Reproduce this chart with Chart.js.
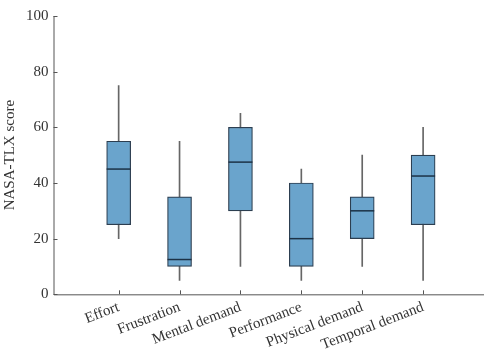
<!DOCTYPE html>
<html>
<head>
<meta charset="utf-8">
<script src="https://cdn.jsdelivr.net/npm/chart.js@4"></script>
<style>
  html, body { margin: 0; padding: 0; background: #fff; }
  #wrap { width: 484px; height: 358px; }
</style>
</head>
<body>
<div id="wrap"><canvas id="box-chart"></canvas></div>
<script>
const categories = ['Effort', 'Frustration', 'Mental demand', 'Performance', 'Physical demand', 'Temporal demand'];
const whiskerLow  = [20,  5,   10, 5,  10, 5];
const quartile1   = [25,  10,  30, 10, 20, 25];
const medians     = [45,  12.5, 47.5, 20, 30, 42.5];
const quartile3   = [55,  35,  60, 40, 35, 50];
const whiskerHigh = [75,  55,  65, 45, 50, 60];
const yTicks      = [0, 20, 40, 60, 80, 100];

const positions = categories.map((c, i) => i + 1);

const boxFill   = '#6aa4cc';
const boxEdge   = '#2c3e50';
const axisColor = '#555555';
const fontFam   = '"Liberation Serif", "Times New Roman", serif';

// medians drawn on top of the boxes
const medianPlugin = {
  id: 'medianLines',
  afterDatasetsDraw(chart) {
    const { ctx, scales: { y } } = chart;
    const meta = chart.getDatasetMeta(1);
    ctx.save();
    ctx.strokeStyle = '#1c3246';
    ctx.lineWidth = 1.5;
    medians.forEach((m, i) => {
      const bar = meta.data[i];
      const half = bar.width / 2;
      const py = y.getPixelForValue(m);
      ctx.beginPath();
      ctx.moveTo(bar.x - half, py);
      ctx.lineTo(bar.x + half, py);
      ctx.stroke();
    });
    ctx.restore();
  }
};

// axis lines with inward tick marks
const axesPlugin = {
  id: 'inwardAxes',
  afterDraw(chart) {
    const { ctx, chartArea: a, scales: { x, y } } = chart;
    ctx.save();
    ctx.strokeStyle = axisColor;
    ctx.lineWidth = 1;
    ctx.beginPath();
    ctx.moveTo(a.left + 0.5, a.top);
    ctx.lineTo(a.left + 0.5, a.bottom + 0.5);
    ctx.lineTo(a.right, a.bottom + 0.5);
    y.ticks.forEach(t => {
      const py = Math.round(y.getPixelForValue(t.value)) + 0.5;
      ctx.moveTo(a.left, py);
      ctx.lineTo(a.left + 4, py);
    });
    x.ticks.forEach(t => {
      const px = Math.round(x.getPixelForValue(t.value)) + 0.5;
      ctx.moveTo(px, a.bottom);
      ctx.lineTo(px, a.bottom - 4);
    });
    ctx.stroke();
    ctx.restore();
  }
};

const ctx = document.getElementById('box-chart').getContext('2d');

new Chart(ctx, {
  type: 'bar',
  data: {
    datasets: [
      {
        label: 'whiskers',
        data: positions.map((p, i) => ({ x: p, y: [whiskerLow[i], whiskerHigh[i]] })),
        backgroundColor: '#666666',
        borderWidth: 0,
        barThickness: 1,
        grouped: false,
        order: 2
      },
      {
        label: 'boxes',
        data: positions.map((p, i) => ({ x: p, y: [quartile1[i], quartile3[i]] })),
        backgroundColor: boxFill,
        borderColor: boxEdge,
        borderWidth: 1.2,
        borderSkipped: false,
        barThickness: 24,
        grouped: false,
        order: 1
      }
    ]
  },
  options: {
    responsive: true,
    maintainAspectRatio: false,
    animation: false,
    layout: { padding: { top: 16, right: 0, left: 1, bottom: 0 } },
    plugins: {
      legend: { display: false },
      tooltip: { enabled: false }
    },
    scales: {
      x: {
        type: 'linear',
        offset: false,
        min: -0.07,
        max: 7,
        afterBuildTicks: s => { s.ticks = positions.map(v => ({ value: v })); },
        ticks: {
          callback: v => categories[v - 1],
          minRotation: 21,
          maxRotation: 21,
          padding: 4,
          color: '#333',
          font: { family: fontFam, size: 15 }
        },
        grid: { display: false, drawTicks: false },
        border: { display: false }
      },
      y: {
        min: 0,
        max: 100,
        afterBuildTicks: s => { s.ticks = yTicks.map(v => ({ value: v })); },
        ticks: {
          padding: 5,
          color: '#333',
          font: { family: fontFam, size: 15 }
        },
        grid: { display: false, drawTicks: false },
        border: { display: false },
        title: {
          display: true,
          text: 'NASA-TLX score',
          color: '#333',
          padding: { top: 0, bottom: 2 },
          font: { family: fontFam, size: 15 }
        }
      }
    }
  },
  plugins: [medianPlugin, axesPlugin]
});
</script>
</body>
</html>
